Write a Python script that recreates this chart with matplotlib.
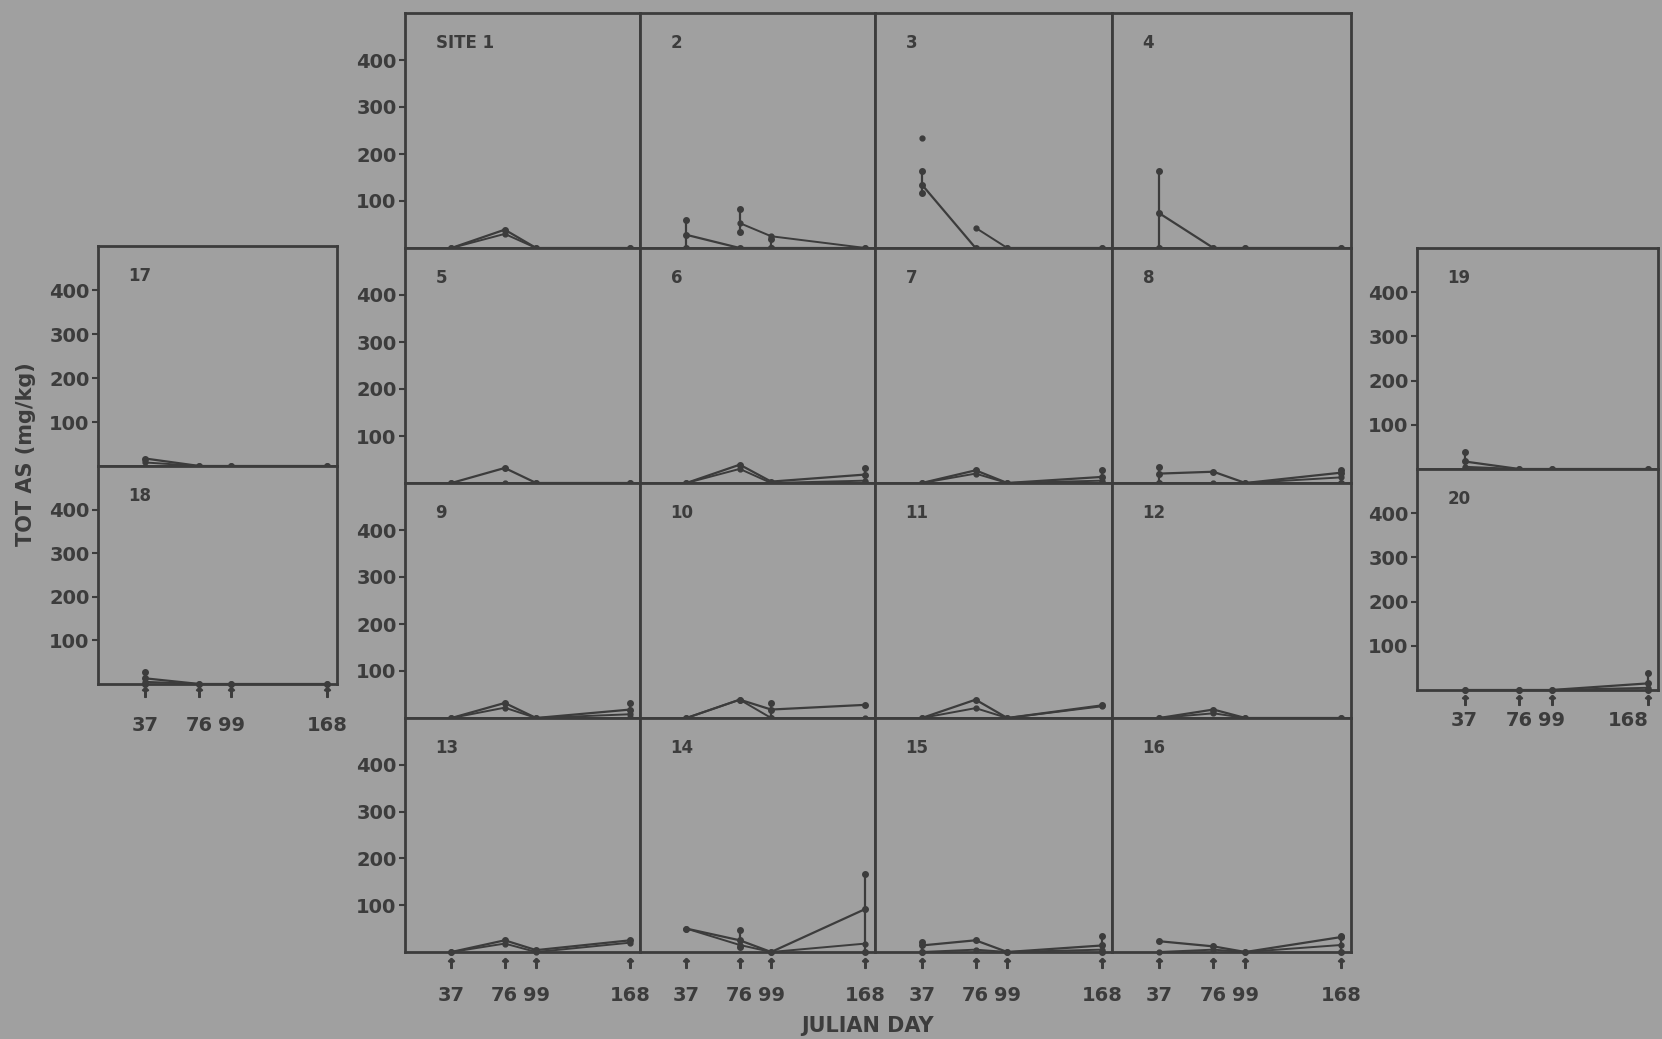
#!/usr/bin/env python3
"""Total As (mg/kg) vs Julian day for 20 sites: 4x4 grid + two side columns."""
import numpy as np
import matplotlib
matplotlib.use("Agg")
import matplotlib.pyplot as plt
from matplotlib import transforms

W, H = 1662, 1039
BG = "#a0a0a0"
INK = "#3c3c3c"

days = [37, 76, 99, 168]
day_labels = ["37", "76", "99", "168"]
y_ticks = [100, 200, 300, 400]
y_tick_labels = ["100", "200", "300", "400"]
site_labels = ["SITE 1"] + [str(i) for i in range(2, 21)]

nan = np.nan
# main trace per site, values at days 37, 76, 99, 168
series_a = [
    [0, 39, 0, 0],      # 1
    [28, 0, 0, 0],      # 2
    [135, 0, 0, 0],     # 3
    [74, 0, 0, 0],      # 4
    [0, 32, 0, 0],      # 5
    [0, 39, 3, 18],     # 6
    [0, 27, 0, 13],     # 7
    [20, 24, 0, 22],    # 8
    [0, 32, 0, 18],     # 9
    [0, 39, 18, 28],    # 10
    [0, 39, 0, 27],     # 11
    [0, 18, 0, 0],      # 12
    [0, 25, 4, 25],     # 13
    [50, 25, 0, 92],    # 14
    [14, 25, 0, 14],    # 15
    [23, 12, 0, 32],    # 16
    [17, 0, 0, 0],      # 17
    [13, 0, 0, 0],      # 18
    [17, 0, 0, 0],      # 19
    [0, 0, 0, 15],      # 20
]
# second trace per site
series_b = [
    [0, 30, 0, 0],
    [nan, 53, 25, 0],
    [nan, 43, 0, 0],
    [0, 0, 0, 0],
    [0, 0, 0, 0],
    [0, 30, 0, 5],
    [0, 20, 0, 5],
    [0, 0, 0, 12],
    [0, 22, 0, 8],
    [0, 39, 0, 0],
    [0, 21, 0, 25],
    [0, 10, 0, 0],
    [0, 18, 0, 20],
    [50, 15, 0, 18],
    [0, 5, 0, 5],
    [0, 5, 0, 15],
    [8, 0, 0, 0],
    [5, 0, 0, 0],
    [5, 0, 0, 0],
    [0, 0, 0, 5],
]
# vertical range bars: (day, low, high)
range_bars = [
    [],
    [(37, 0, 60), (76, 35, 82), (99, 0, 20)],
    [(37, 117, 163)],
    [(37, 0, 163)],
    [],
    [(168, 0, 32)],
    [(168, 0, 27)],
    [(37, 0, 35), (168, 0, 27)],
    [(168, 0, 32)],
    [(99, 0, 32)],
    [],
    [],
    [],
    [(76, 11, 46), (168, 0, 167)],
    [(37, 0, 21), (168, 0, 35)],
    [(168, 0, 35)],
    [],
    [(37, 0, 28)],
    [(37, 0, 38)],
    [(168, 0, 38)],
]
# isolated points: (site, day, value)
lone_points = [(3, 37, 234)]

# panel boxes in pixels (x0, y0, x1, y1)
col_x = [405, 640, 875, 1112, 1351]
row_y = [13, 248, 483, 718, 952]
boxes = []
for i in range(16):
    r, c = divmod(i, 4)
    boxes.append((col_x[c], row_y[r], col_x[c + 1], row_y[r + 1]))
boxes += [(98, 246, 337, 466), (98, 466, 337, 684),
          (1417, 248, 1658, 469), (1417, 469, 1658, 690)]

ylabel_sites = {1, 5, 9, 13, 17, 18, 19, 20}
xlabel_pad = {13: 24.5, 14: 24.5, 15: 24.5, 16: 24.5, 18: 23, 20: 15}
tick_mark_off = {13: 11, 14: 11, 15: 11, 16: 11, 18: 8, 20: 10}

plt.rcParams["font.family"] = "DejaVu Sans"
plt.rcParams["font.weight"] = "bold"

fig = plt.figure(figsize=(W / 100, H / 100), dpi=100, facecolor=BG)

for i, (x0, y0, x1, y1) in enumerate(boxes):
    site = i + 1
    ax = fig.add_axes([x0 / W, 1 - y1 / H, (x1 - x0) / W, (y1 - y0) / H])
    ax.set_facecolor(BG)
    ax.set_xlim(3, 175)
    ax.set_ylim(0, 500)
    for s in ax.spines.values():
        s.set_color(INK)
        s.set_linewidth(2.0)

    ax.plot(days, series_a[i], color=INK, lw=1.6, marker="o", ms=4, clip_on=False, zorder=3)
    ax.plot(days, series_b[i], color=INK, lw=1.4, marker="o", ms=3.5, clip_on=False, zorder=3)
    for d, lo, hi in range_bars[i]:
        ax.plot([d, d], [lo, hi], color=INK, lw=1.6, marker="o", ms=4, clip_on=False, zorder=3)
    for s_, d, v in lone_points:
        if s_ == site:
            ax.plot([d], [v], "o", color=INK, ms=3.5)

    ax.annotate(site_labels[i], xy=(0, 1), xycoords="axes fraction",
                xytext=(22, -21.5), textcoords="offset points",
                ha="left", va="center", fontsize=12, fontweight="bold", color=INK)

    if site in ylabel_sites:
        ax.set_yticks(y_ticks)
        ax.set_yticklabels(y_tick_labels)
        ax.tick_params(axis="y", direction="out", length=4, width=1.5, pad=2,
                       colors=INK, labelsize=14)
    else:
        ax.set_yticks([])

    if site in xlabel_pad:
        ax.set_xticks(days)
        ax.set_xticklabels(day_labels)
        ax.tick_params(axis="x", length=0, pad=xlabel_pad[site], colors=INK, labelsize=14)
        if site == 20:
            # right-most label sits against the page edge
            ax.get_xticklabels()[-1].set_horizontalalignment("right")
            ax.get_xticklabels()[-1].set_x(176)
        trans = transforms.blended_transform_factory(ax.transData, ax.transAxes)
        off = -tick_mark_off[site] / (y1 - y0)
        ax.plot(days, [off] * len(days), linestyle="none", marker=r"$\uparrow$",
                ms=7, color=INK, transform=trans, clip_on=False)
    else:
        ax.set_xticks([])

fig.text(26 / W, 1 - 454 / H, "TOT AS (mg/kg)", rotation=90, ha="center", va="center",
         fontsize=15, fontweight="bold", color=INK)
fig.text(868 / W, 1 - 1026 / H, "JULIAN DAY", ha="center", va="center",
         fontsize=15, fontweight="bold", color=INK)

fig.savefig("out.png", dpi=100, facecolor=BG)
